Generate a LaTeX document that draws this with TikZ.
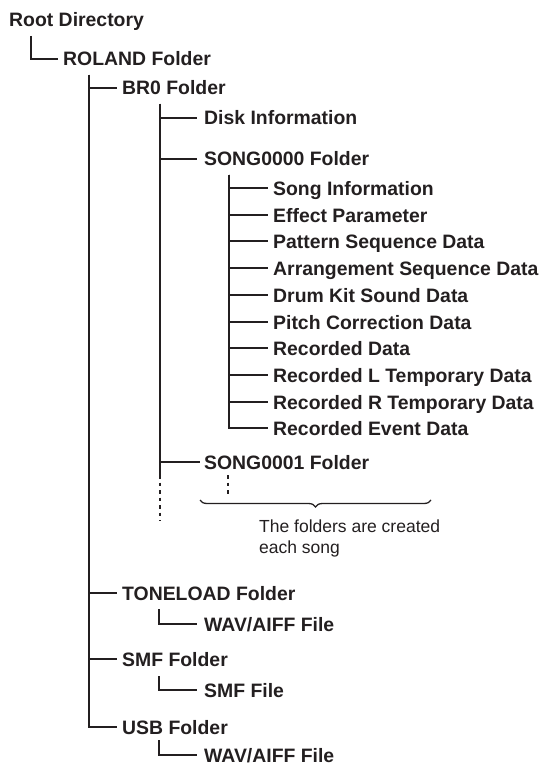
\documentclass[tikz,border=0pt]{standalone}
\usepackage{fontspec}
\setmainfont{Liberation Sans}
\usetikzlibrary{decorations.pathreplacing}
\definecolor{ink}{RGB}{35,31,32}
\begin{document}
\begin{tikzpicture}[x=1pt,y=-1pt,
  lbl/.style={anchor=west, inner sep=0pt, text height=14pt, text depth=0pt, font=\fontsize{19.4}{22}\selectfont\bfseries, text=ink},
  conn/.style={draw=ink, line width=1.7pt},
  dots/.style={conn, dash pattern=on 3.5pt off 4pt},
  bracestyle/.style={draw=ink, line width=1.3pt, decorate, decoration={brace, mirror, amplitude=7pt}},
  note/.style={anchor=north west, inner sep=0pt, align=left, font=\fontsize{17.5}{21}\selectfont, text=ink}]
\useasboundingbox (0,0) rectangle (548,770);

% nodes
\node[lbl] (root) at (9,20) {Root Directory};
\node[lbl] (roland) at (63,59) {ROLAND Folder};
\node[lbl] (br0) at (122,88) {BR0 Folder};
\node[lbl] (disk) at (204,118) {Disk Information};
\node[lbl] (song0) at (204,159) {SONG0000 Folder};
\node[lbl] (i1) at (273,188) {Song Information};
\node[lbl] (i2) at (273,215) {Effect Parameter};
\node[lbl] (i3) at (273,241) {Pattern Sequence Data};
\node[lbl] (i4) at (273,268) {Arrangement Sequence Data};
\node[lbl] (i5) at (273,295) {Drum Kit Sound Data};
\node[lbl] (i6) at (273,322) {Pitch Correction Data};
\node[lbl] (i7) at (273,348) {Recorded Data};
\node[lbl] (i8) at (273,375) {Recorded L Temporary Data};
\node[lbl] (i9) at (273,402) {Recorded R Temporary Data};
\node[lbl] (i10) at (273,428) {Recorded Event Data};
\node[lbl] (song1) at (204,462) {SONG0001 Folder};
\node[note] (note) at (259,520) {The folders are created\\each song};
\node[lbl] (tone) at (122,593) {TONELOAD Folder};
\node[lbl] (tonef) at (204,624) {WAV/AIFF File};
\node[lbl] (smf) at (122,659) {SMF Folder};
\node[lbl] (smff) at (204,690) {SMF File};
\node[lbl] (usb) at (122,727) {USB Folder};
\node[lbl] (usbf) at (204,755) {WAV/AIFF File};

% stems
\coordinate (s0) at (31,36);
\coordinate (s1) at (89,75);
\coordinate (s2) at (160,104);
\coordinate (s2a) at (160,475);
\coordinate (s2b) at (160,521);
\coordinate (s3) at (229,175);
\coordinate (d1) at (228,475);
\coordinate (d2) at (228,494);
\coordinate (s4) at (159,609);
\coordinate (s5) at (159,676);
\coordinate (s6) at (159,740);
\coordinate (bl) at (200,500);
\coordinate (br) at (431,500);

% connectors
\draw[conn] (s0) |- ([xshift=-5pt]roland.west);
\foreach \n in {br0,tone,smf,usb} \draw[conn] (s1) |- ([xshift=-5pt]\n.west);
\foreach \n in {disk,song0} \draw[conn] (s2) |- ([xshift=-7pt]\n.west);
\draw[conn] (s2) |- ([xshift=-4pt]song1.west);
\draw[conn] (s2) -- (s2a);
\draw[dots] (s2a) -- (s2b);
\foreach \n in {i1,i2,i3,i4,i5,i6,i7,i8,i9,i10} \draw[conn] (s3) |- ([xshift=-5pt]\n.west);
\draw[dots] (d1) -- (d2);
\draw[bracestyle] (bl) -- (br);
\draw[conn] (s4) |- ([xshift=-7pt]tonef.west);
\draw[conn] (s5) |- ([xshift=-7pt]smff.west);
\draw[conn] (s6) |- ([xshift=-7pt]usbf.west);
\end{tikzpicture}
\end{document}
